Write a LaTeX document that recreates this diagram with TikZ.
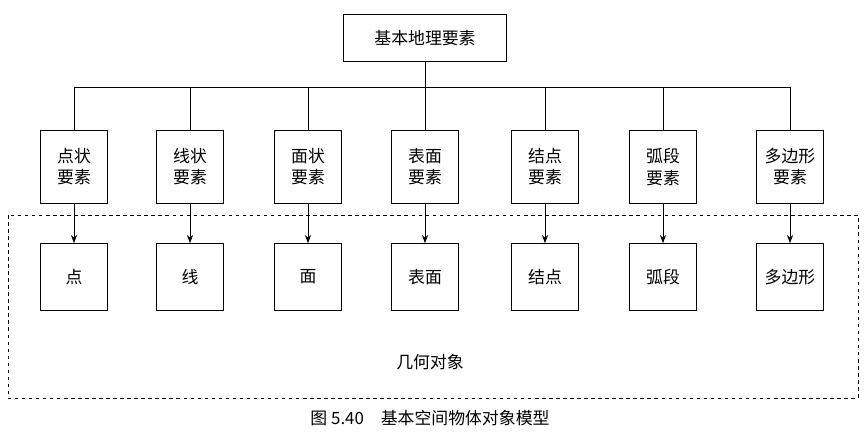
\documentclass[tikz,border=0pt]{standalone}
\usepackage{fontspec}
\newfontfamily\cjk{Noto Sans CJK SC}
\usetikzlibrary{arrows.meta}
\tikzset{
  box/.style={draw,thick,minimum width=2.0cm,minimum height=2.2cm,align=center,font=\cjk\Large},
  low/.style={draw,thick,minimum width=2.0cm,minimum height=2.0cm,font=\cjk\Large},
  link/.style={thick,-{Stealth[length=7pt]}}
}
\begin{document}
\begin{tikzpicture}[x=0.03cm,y=-0.03cm]
  \useasboundingbox (0,0) rectangle (865,442);
  \node[draw,thick,minimum width=4.9cm,minimum height=1.4cm,font=\cjk\Large] (root) at (425,38) {基本地理要素};
  \coordinate (bus) at (425,87);
  \draw[thick] (root) -- (bus);
  \def \Items{
    a/74/点状\\要素/点,
    b/190/线状\\要素/线,
    c/308/面状\\要素/面,
    d/425/表面\\要素/表面,
    e/545/结点\\要素/结点,
    f/663/弧段\\要素/弧段,
    g/790/多边形\\要素/多边形}
  \foreach \id / \x / \up / \lo in \Items{
    \node[box] (u\id) at (\x,167) {\up};
    \node[low] (l\id) at (\x,277) {\lo};
    \draw[link] (u\id) -- (l\id);
    \draw[thick] (u\id.north) -- (\x,87);
  }
  \draw[thick] (74,87) -- (790,87);
  \draw[thick,dashed] (8,215) rectangle (858,398);
  \node[font=\cjk\Large] (geo) at (430,362) {几何对象};
  \node[font=\cjk\Large] (cap) at (430,418) {图 5.40\quad 基本空间物体对象模型};
\end{tikzpicture}
\end{document}
